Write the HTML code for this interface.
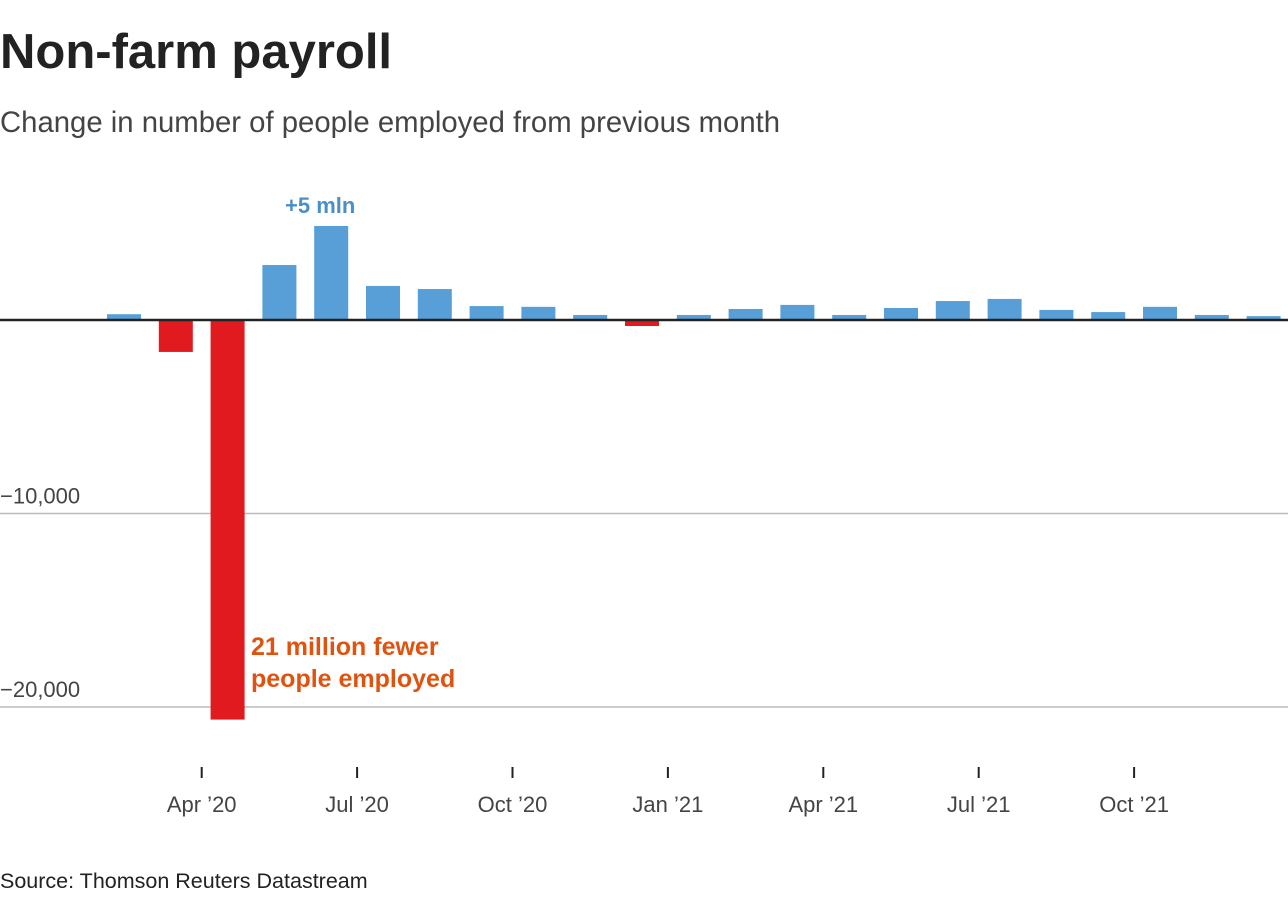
<!DOCTYPE html>
<html><head><meta charset="utf-8"><style>
body{margin:0;background:#fff;width:1288px;height:900px;overflow:hidden;font-family:"Liberation Sans",sans-serif}
</style></head><body>
<svg width="1288" height="900">
<text x="0" y="68" font-size="49" font-weight="bold" fill="#222">Non-farm payroll</text>
<text x="0" y="132" font-size="29.3" fill="#444">Change in number of people employed from previous month</text>
<g id="grid"></g>
<g id="bars"></g>
<line x1="0" x2="1288" y1="320" y2="320" stroke="#222" stroke-width="2.5"/>
<g id="xaxis"></g>
<text x="285" y="213" font-size="22" font-weight="bold" fill="#4a8fc6">+5 mln</text>
<text x="251" y="655" font-size="25" font-weight="bold" fill="#e0530f">21 million fewer</text>
<text x="251" y="687" font-size="25" font-weight="bold" fill="#e0530f">people employed</text>
<text x="0" y="888" font-size="21.5" fill="#222">Source: Thomson Reuters Datastream</text>
</svg>
<script>
const months=["Feb20","Mar20","Apr20","May20","Jun20","Jul20","Aug20","Sep20","Oct20","Nov20","Dec20","Jan21","Feb21","Mar21","Apr21","May21","Jun21","Jul21","Aug21","Sep21","Oct21","Nov21","Dec21"];
const values=[300,-1650,-20650,2840,4860,1760,1600,720,680,260,-310,260,570,780,260,620,980,1090,520,410,680,260,200];
const yTicks=[-10000,-20000];
const yTickLabels=["\u221210,000","\u221220,000"];
const xTickPos=[1.5,4.5,7.5,10.5,13.5,16.5,19.5];
const xTickLabels=["Apr \u201920","Jul \u201920","Oct \u201920","Jan \u201921","Apr \u201921","Jul \u201921","Oct \u201921"];
const NS="http://www.w3.org/2000/svg";
const y=v=>320-v*0.01935;
const x=i=>124+i*51.8;
const grid=document.getElementById('grid'),bars=document.getElementById('bars'),xa=document.getElementById('xaxis');
yTicks.forEach((t,k)=>{
 const l=document.createElementNS(NS,'line');
 l.setAttribute('x1',0);l.setAttribute('x2',1288);l.setAttribute('y1',y(t));l.setAttribute('y2',y(t));
 l.setAttribute('stroke','#bbb');l.setAttribute('stroke-width','1.5');
 
 
 grid.appendChild(l);
 const tx=document.createElementNS(NS,'text');
 tx.setAttribute('x',0);tx.setAttribute('y',y(t)-10);tx.setAttribute('font-size','22');tx.setAttribute('fill','#444');
 tx.textContent=yTickLabels[k];
 
 
 grid.appendChild(tx);
});
values.forEach((v,i)=>{
 const r=document.createElementNS(NS,'rect');
 r.setAttribute('x',x(i)-17);r.setAttribute('width',34);
 r.setAttribute('y',Math.min(y(v),320));r.setAttribute('height',Math.abs(y(v)-320));
 r.setAttribute('fill',v<0?'#e01a1e':'#579fd6');
 
 
 bars.appendChild(r);
});
xTickPos.forEach((p,k)=>{
 const l=document.createElementNS(NS,'line');
 l.setAttribute('x1',x(p));l.setAttribute('x2',x(p));l.setAttribute('y1',767);l.setAttribute('y2',778);
 l.setAttribute('stroke','#222');l.setAttribute('stroke-width','2');
 
 
 xa.appendChild(l);
 const tx=document.createElementNS(NS,'text');
 tx.setAttribute('x',x(p));tx.setAttribute('y',812);tx.setAttribute('font-size','22');tx.setAttribute('fill','#444');tx.setAttribute('text-anchor','middle');
 tx.textContent=xTickLabels[k];
 
 
 xa.appendChild(tx);
});
</script>
</body></html>
